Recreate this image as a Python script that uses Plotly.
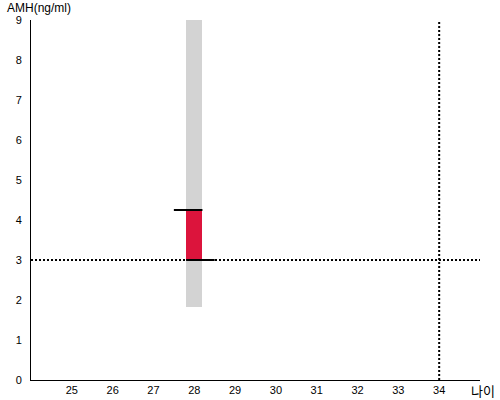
import plotly.graph_objects as go

# data
age_ticks = [25, 26, 27, 28, 29, 30, 31, 32, 33, 34]
amh_ticks = [0, 1, 2, 3, 4, 5, 6, 7, 8, 9]
patient_age = [28]
range_low = [1.83]
range_high = [9.0]
amh_ref = [3.0]
amh_value = [4.25]
ref_age = 34
bar_w = 0.4

fig = go.Figure()

# gray range band
fig.add_trace(go.Bar(x=patient_age, y=[range_high[0] - range_low[0]], base=range_low,
                     width=bar_w, marker=dict(color='#d3d3d3', line=dict(width=0)),
                     showlegend=False, hoverinfo='skip'))
# red bar between reference and measured value
fig.add_trace(go.Bar(x=patient_age, y=[amh_value[0] - amh_ref[0]], base=amh_ref,
                     width=bar_w, marker=dict(color='#dc143c', line=dict(width=0)),
                     showlegend=False, hoverinfo='skip'))

# horizontal dotted reference line
fig.add_trace(go.Scatter(x=[24, 35], y=[amh_ref[0], amh_ref[0]], mode='lines',
                         line=dict(color='black', width=2, dash='2px,2px'),
                         showlegend=False, hoverinfo='skip'))
# vertical dotted age line
fig.add_trace(go.Scatter(x=[ref_age, ref_age], y=[0, 9], mode='lines',
                         line=dict(color='black', width=2, dash='2px,2px'),
                         showlegend=False, hoverinfo='skip'))

# black markers: value (extends left), reference (extends right)
fig.add_trace(go.Scatter(x=[patient_age[0] - 0.5, patient_age[0] + bar_w / 2],
                         y=[amh_value[0], amh_value[0]], mode='lines',
                         line=dict(color='black', width=2),
                         showlegend=False, hoverinfo='skip'))
fig.add_trace(go.Scatter(x=[patient_age[0] - bar_w / 2, patient_age[0] + 0.5],
                         y=[amh_ref[0], amh_ref[0]], mode='lines',
                         line=dict(color='black', width=2),
                         showlegend=False, hoverinfo='skip'))

fig.update_layout(
    width=500, height=400,
    margin=dict(l=31, r=20, t=20, b=20, autoexpand=False),
    plot_bgcolor='white', paper_bgcolor='white',
    barmode='overlay', bargap=0,
    font=dict(family='Liberation Sans, Arial', size=11, color='black'),
    xaxis=dict(range=[24, 35], tickvals=age_ticks, showgrid=False, zeroline=False,
               showline=True, linecolor='black', linewidth=1, ticks='', ticklen=0,
               automargin=False),
    yaxis=dict(range=[0, 9], tickvals=amh_ticks, showgrid=False, zeroline=False,
               showline=True, linecolor='black', linewidth=1, ticks='', ticklen=0,
               ticklabelstandoff=6, automargin=False),
    annotations=[
        dict(text='AMH(ng/ml)', xref='paper', yref='paper', x=-0.058, y=1.0,
             xanchor='left', yanchor='bottom', showarrow=False, yshift=3,
             font=dict(size=12, color='black')),
        dict(text='나이', xref='paper', yref='paper', x=1.038, y=0,
             xanchor='right', yanchor='top', showarrow=False, yshift=1,
             font=dict(family='Noto Sans CJK KR', size=13, color='black')),
    ],
)

# drop the default page margin so the chart fills the window
fig.write_html("out.html", config={'displayModeBar': False},
               post_script="document.body.style.margin='0';")
